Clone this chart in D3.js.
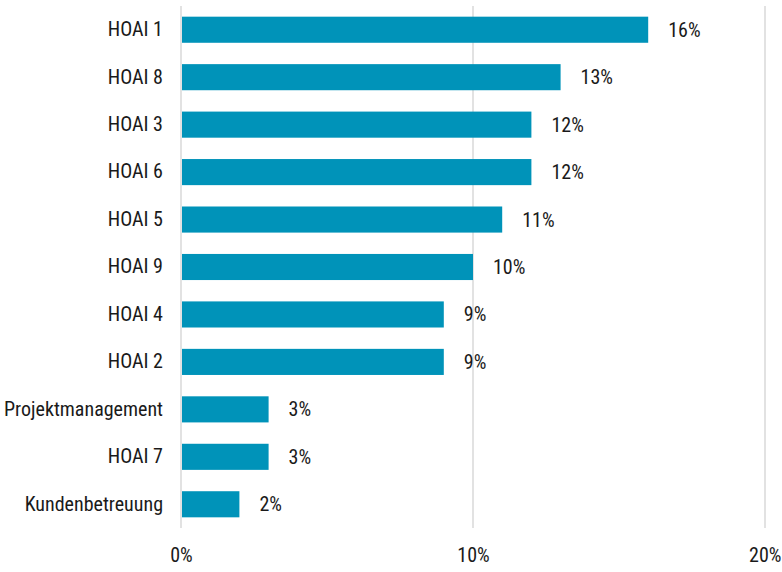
<!DOCTYPE html>
<html>
<head>
<meta charset="utf-8">
<script src="https://cdn.jsdelivr.net/npm/d3@7"></script>
<style>
  body { margin: 0; background: #fff; }
  svg text { font-family: "Liberation Sans Narrow", "Roboto Condensed", "DejaVu Sans Condensed", sans-serif; fill: #1a1a1a; }
</style>
</head>
<body>
<svg width="782" height="572"></svg>
<script>
//	data
var categories = ["HOAI 1", "HOAI 8", "HOAI 3", "HOAI 6", "HOAI 5", "HOAI 9",
    "HOAI 4", "HOAI 2", "Projektmanagement", "HOAI 7", "Kundenbetreuung"];
var values = [16, 13, 12, 12, 11, 10, 9, 9, 3, 3, 2];
var ticks = [0, 10, 20];

var svg = d3.select("svg");

//	scales
var x = d3.scaleLinear().domain([0, 20]).range([181, 765]);
var y = d3.scaleBand().domain(categories).range([6, 528])
        .paddingInner(0.45).paddingOuter(0.225);

//	gridlines
svg.append("g").selectAll("line")
        .data(ticks)
        .enter().append("line")
        .attr("x1", function (d) { return x(d); })
        .attr("x2", function (d) { return x(d); })
        .attr("y1", 6)
        .attr("y2", 528)
        .attr("stroke", "#d9d9d9")
        .attr("stroke-width", 1.5);

//	bars
svg.append("g").selectAll("rect")
        .data(values)
        .enter().append("rect")
        .attr("x", x(0) + 1)
        .attr("y", function (d, i) { return y(categories[i]); })
        .attr("width", function (d) { return x(d) - x(0) - 1; })
        .attr("height", y.bandwidth())
        .attr("fill", "#0093b9");

//	value labels
svg.append("g").selectAll("text")
        .data(values)
        .enter().append("text")
        .attr("x", function (d) { return x(d) + 20; })
        .attr("y", function (d, i) { return y(categories[i]) + y.bandwidth() / 2; })
        .attr("dy", "0.35em")
        .attr("font-size", 20)
        .text(function (d) { return d + "%"; });

//	category labels
var yAxis = svg.append("g")
        .attr("transform", "translate(163,0)")
        .call(d3.axisLeft(y).tickSize(0).tickPadding(0));
yAxis.select(".domain").remove();
yAxis.attr("font-family", null).attr("font-size", null);
yAxis.selectAll("text").attr("font-size", 20);

//	x tick labels
var xAxis = svg.append("g")
        .attr("transform", "translate(0,562)")
        .call(d3.axisBottom(x).tickValues(ticks).tickSize(0).tickPadding(0)
                .tickFormat(function (d) { return d + "%"; }));
xAxis.select(".domain").remove();
xAxis.attr("font-family", null).attr("font-size", null);
xAxis.selectAll("text").attr("font-size", 20).attr("dy", null);
xAxis.selectAll("text").filter(function (d) { return d === 20; })
        .attr("text-anchor", "end").attr("x", 16);
</script>
</body>
</html>
